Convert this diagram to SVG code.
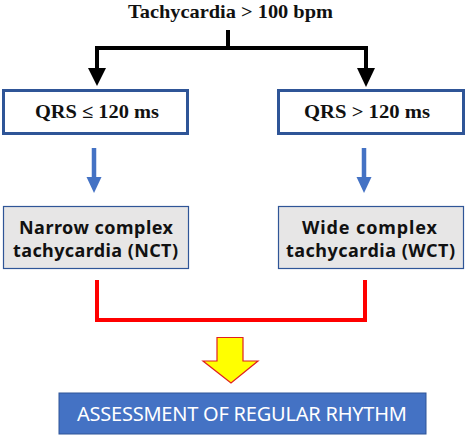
<svg xmlns="http://www.w3.org/2000/svg" width="467" height="438" viewBox="0 0 467 438">
<style>
.ser{font-family:"Liberation Serif","Times New Roman",serif;font-weight:bold;fill:#111;}
.sans{font-family:"Noto Sans","Open Sans",sans-serif;font-weight:bold;fill:#111;}
.qbox{fill:#fff;stroke:#2F5597;stroke-width:3;}
.gbox{fill:#E7E6E6;stroke:#2F5597;stroke-width:1.2;}
.blk{stroke:#000;stroke-width:4;fill:none;}
.blu{stroke:#4472C4;stroke-width:4.5;fill:none;}
.red{stroke:#FF0000;stroke-width:4;fill:none;stroke-linejoin:miter;}
</style>
<rect width="467" height="438" fill="#fff"/>
<g id="title">
<text class="ser" x="230.5" y="18" font-size="19" text-anchor="middle" textLength="205" lengthAdjust="spacingAndGlyphs">Tachycardia &gt; 100 bpm</text>
</g>
<g id="qrs-narrow">
<rect class="qbox" x="3.5" y="90.5" width="184" height="43"/>
<text class="ser" x="97" y="118" font-size="19" text-anchor="middle" textLength="124" lengthAdjust="spacingAndGlyphs">QRS ≤ 120 ms</text>
</g>
<g id="qrs-wide">
<rect class="qbox" x="278.5" y="90.5" width="185" height="43"/>
<text class="ser" x="367" y="118" font-size="19" text-anchor="middle" textLength="126" lengthAdjust="spacingAndGlyphs">QRS &gt; 120 ms</text>
</g>
<g id="nct">
<rect class="gbox" x="3.5" y="206.5" width="185" height="62"/>
<text class="sans" x="96" y="234" font-size="18" text-anchor="middle" textLength="154" lengthAdjust="spacing">Narrow complex</text>
<text class="sans" x="95.5" y="257" font-size="18" text-anchor="middle" textLength="165" lengthAdjust="spacing">tachycardia (NCT)</text>
</g>
<g id="wct">
<rect class="gbox" x="278.5" y="206.5" width="185" height="62"/>
<text class="sans" x="369.5" y="234" font-size="18" text-anchor="middle" textLength="135" lengthAdjust="spacing">Wide complex</text>
<text class="sans" x="370.5" y="257" font-size="18" text-anchor="middle" textLength="169" lengthAdjust="spacing">tachycardia (WCT)</text>
</g>
<g id="assessment">
<rect x="59" y="393" width="367" height="41" fill="#4472C4" stroke="#2F5597" stroke-width="1"/>
<text x="242" y="421" font-family="Noto Sans,Open Sans,sans-serif" font-size="20" fill="#fff" text-anchor="middle" textLength="330" lengthAdjust="spacing">ASSESSMENT OF REGULAR RHYTHM</text>
</g>
<g id="connectors">
<path class="blk" d="M228 30 V48 M97 48 H366 M97 46 V70 M366 46 V70"/>
<polygon points="88,68 106,68 97,86" fill="#000"/>
<polygon points="357,68 375,68 366,87" fill="#000"/>
<path class="blu" d="M94 148 V179 M364 148 V179"/>
<polygon points="86.5,177 101.5,177 94,193" fill="#4472C4"/>
<polygon points="356.5,177 371.5,177 364,193" fill="#4472C4"/>
<path class="red" d="M97 280 V320 H365 V280"/>
<polygon points="217,337.5 243,337.5 243,361 258,361 231,383 203,361 217,361" fill="#FFFF00" stroke="#E02020" stroke-width="1.2"/>
</g>
</svg>
